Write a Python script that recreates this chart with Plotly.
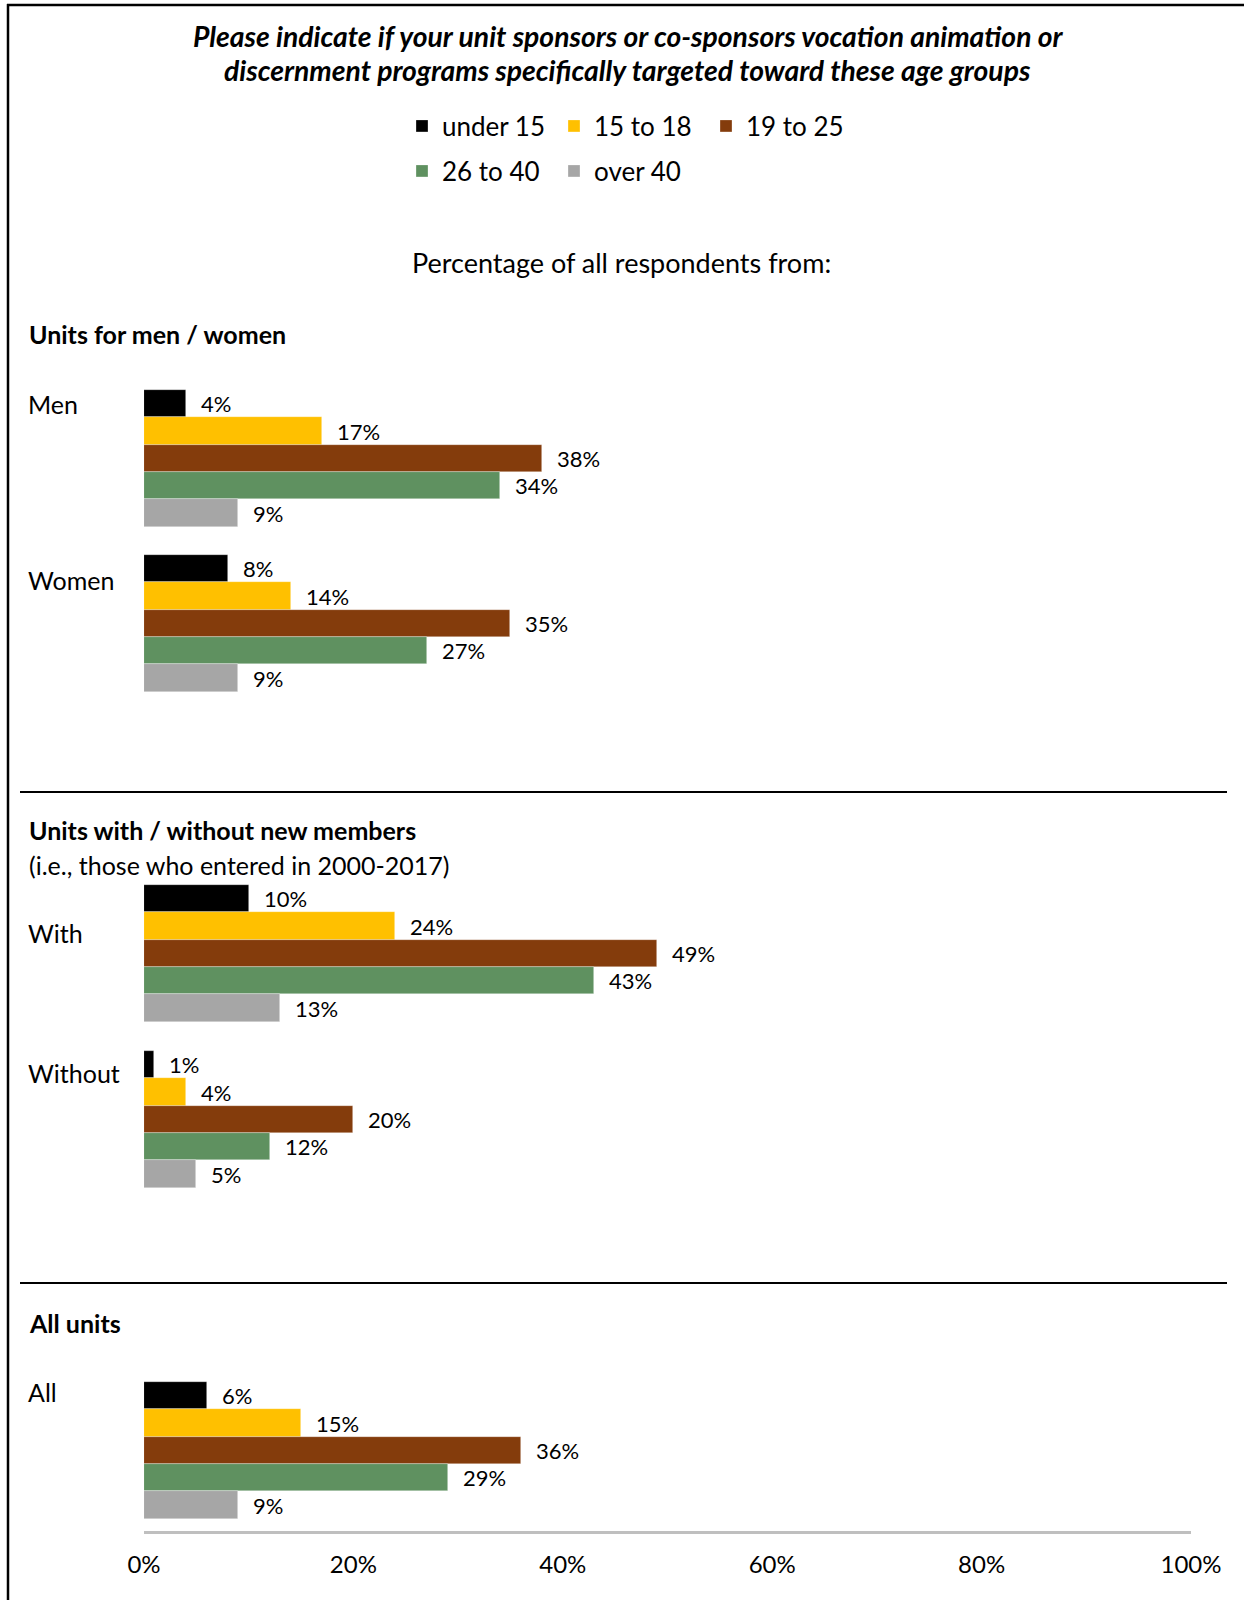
import plotly.graph_objects as go

# Survey results: share of units sponsoring programs for each age group
age_groups = ["under 15", "15 to 18", "19 to 25", "26 to 40", "over 40"]
unit_types = ["Men", "Women", "With", "Without", "All"]
under_15 = [4, 8, 10, 1, 6]
age_15_18 = [17, 14, 24, 4, 15]
age_19_25 = [38, 35, 49, 20, 36]
age_26_40 = [34, 27, 43, 12, 29]
over_40 = [9, 9, 13, 5, 9]
x_ticks = [0, 20, 40, 60, 80, 100]
x_tick_labels = [f"{v}%" for v in x_ticks]

series = [under_15, age_15_18, age_19_25, age_26_40, over_40]
colors = ["#000000", "#FFC000", "#843C0C", "#5F9160", "#A6A6A6"]

W, H = 1244, 1600
FONT = "Lato"

# Layout constants (the y axis is measured in pixels from the top)
group_top = [390, 555, 885, 1051, 1382]
bar_h = 27.35
label_y = [404, 580, 933, 1073, 1392]
x0_px, x100_px = 144, 1191

fig = go.Figure()

annotations = []
for i, (name, vals, col) in enumerate(zip(age_groups, series, colors)):
    ys = [t + (i + 0.5) * bar_h for t in group_top]
    fig.add_trace(go.Bar(
        x=vals, y=ys, orientation="h", width=bar_h, name=name,
        marker=dict(color=col, line=dict(color="rgba(255,255,255,0.5)", width=0.6)),
        legend="legend" if i < 3 else "legend2",
        hoverinfo="skip",
    ))
    for v, yv in zip(vals, ys):
        annotations.append(dict(
            x=v, y=yv, xref="x", yref="y", text=f"{v}%", showarrow=False,
            xanchor="left", yanchor="middle", xshift=13,
            font=dict(family=FONT, size=22, color="#000000"),
        ))

def paper_x(px):
    return px / W

# Category labels
for name, yv in zip(unit_types, label_y):
    annotations.append(dict(
        x=paper_x(26), y=yv, xref="paper", yref="y", text=name, showarrow=False,
        xanchor="left", yanchor="middle",
        font=dict(family=FONT, size=25, color="#000000"),
    ))

# Title, subtitle and section headings
text_items = [
    ("<i><b>Please indicate if your unit sponsors or co-sponsors vocation animation or</b></i>", 628, 36, "center", 28.3),
    ("<i><b>discernment programs specifically targeted toward these age groups</b></i>", 628, 70, "center", 28.3),
    ("Percentage of all respondents from:", 621, 262, "center", 27),
    ("<b>Units for men / women</b>", 27, 334, "left", 25),
    ("<b>Units with / without new members</b>", 27, 830, "left", 25),
    ("(i.e., those who entered in 2000-2017)", 27, 865, "left", 25),
    ("<b>All units</b>", 27, 1323, "left", 25),
]
for txt, xp, yp, anc, sz in text_items:
    annotations.append(dict(
        x=paper_x(xp), y=yp, xref="paper", yref="y", text=txt, showarrow=False,
        xanchor=anc, yanchor="middle",
        font=dict(family=FONT, size=sz, color="#000000"),
    ))

shapes = [
    # outer frame (top and left edges)
    dict(type="line", xref="paper", yref="y", x0=paper_x(7), x1=1.0,
         y0=5, y1=5, line=dict(color="#000000", width=2.5)),
    dict(type="line", xref="paper", yref="y", x0=paper_x(8), x1=paper_x(8),
         y0=4, y1=H, line=dict(color="#000000", width=2.5)),
    # section separators
    dict(type="line", xref="paper", yref="y", x0=paper_x(20), x1=paper_x(1227),
         y0=792, y1=792, line=dict(color="#000000", width=2)),
    dict(type="line", xref="paper", yref="y", x0=paper_x(20), x1=paper_x(1227),
         y0=1283, y1=1283, line=dict(color="#000000", width=2)),
]

legend_common = dict(
    orientation="h", xanchor="left", yanchor="middle",
    font=dict(family=FONT, size=26, color="#000000"),
    bgcolor="rgba(0,0,0,0)", entrywidth=107, entrywidthmode="pixels",
    itemclick=False, itemdoubleclick=False,
)

fig.update_layout(
    width=W, height=H,
    margin=dict(l=0, r=0, t=0, b=0, autoexpand=False),
    paper_bgcolor="#FFFFFF", plot_bgcolor="rgba(0,0,0,0)",
    barmode="overlay", bargap=0,
    showlegend=True,
    legend=dict(x=paper_x(402), y=1 - 126 / H, **legend_common),
    legend2=dict(x=paper_x(402), y=1 - 171 / H, **legend_common),
    xaxis=dict(
        domain=[paper_x(x0_px), paper_x(x100_px)], range=[0, 100],
        tickmode="array", tickvals=x_ticks, ticktext=x_tick_labels,
        showgrid=False, zeroline=False, automargin=False,
        showline=True, linecolor="#BFBFBF", linewidth=2.5,
        anchor="free", position=1 - 1532 / H,
        ticks="", ticklabelstandoff=10,
        tickfont=dict(family=FONT, size=24, color="#000000"),
        fixedrange=True,
    ),
    yaxis=dict(
        domain=[0, 1], range=[H, 0], visible=False, fixedrange=True,
        automargin=False,
    ),
    annotations=annotations,
    shapes=shapes,
    font=dict(family=FONT),
)

fig.write_html("out.html")
